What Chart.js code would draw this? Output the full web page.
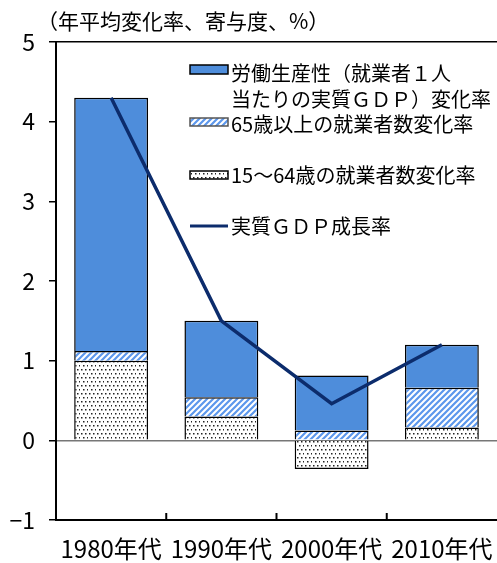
<!DOCTYPE html>
<html>
<head>
<meta charset="utf-8">
<script src="https://cdn.jsdelivr.net/npm/chart.js@4"></script>
<style>
  html, body { margin: 0; padding: 0; background: #fff; }
  #wrap { width: 497px; height: 563px; position: relative; }
</style>
</head>
<body>
<div id="wrap"><canvas id="growth"></canvas></div>
<script>
// Decades and contributions (annual average, % points)
const decades = ['1980年代', '1990年代', '2000年代', '2010年代'];
const productivity = [3.18, 0.96, 0.69, 0.54];
const elderlyWorkers = [0.12, 0.24, 0.125, 0.50];
const workingAgeWorkers = [1.00, 0.30, -0.36, 0.16];
const gdpGrowth = [4.30, 1.50, 0.46, 1.20];
const yMin = -1;
const yMax = 5;

const FONT = "'Liberation Sans Narrow', 'Noto Sans CJK JP', sans-serif";
const BLUE = '#4e8ddb';
const NAVY = '#0c2c6c';

// diagonal blue stripes
function stripePattern() {
    const s = 6;
    const c = document.createElement('canvas');
    c.width = s; c.height = s;
    const g = c.getContext('2d');
    g.fillStyle = '#fff';
    g.fillRect(0, 0, s, s);
    g.strokeStyle = '#5c97ec';
    g.lineWidth = 2.2;
    g.beginPath();
    g.moveTo(0, s); g.lineTo(s, 0);
    g.moveTo(-1, 1); g.lineTo(1, -1);
    g.moveTo(s - 1, s + 1); g.lineTo(s + 1, s - 1);
    g.stroke();
    return g.createPattern(c, 'repeat');
}

// staggered black dots
function dotPattern() {
    const c = document.createElement('canvas');
    c.width = 8; c.height = 8;
    const g = c.getContext('2d');
    g.fillStyle = '#fff';
    g.fillRect(0, 0, 8, 8);
    g.fillStyle = '#222';
    [[1, 1], [5, 1], [3, 5], [7, 5]].forEach(([x, y]) => g.fillRect(x, y, 1.5, 1.5));
    return g.createPattern(c, 'repeat');
}

const stripes = stripePattern();
const dots = dotPattern();

// title, legend and the small ticks between decades
const overlay = {
    id: 'overlay',
    afterDraw(chart) {
        const c = chart.ctx;
        const x = chart.scales.x;
        const area = chart.chartArea;
        c.save();

        c.strokeStyle = '#000';
        c.lineWidth = 2;
        for (let i = 0; i < decades.length - 1; i++) {
            const bx = (x.getPixelForValue(i) + x.getPixelForValue(i + 1)) / 2;
            c.beginPath();
            c.moveTo(bx, area.bottom);
            c.lineTo(bx, area.bottom - 7);
            c.stroke();
        }

        c.fillStyle = '#000';
        c.textBaseline = 'middle';
        c.font = '21px ' + FONT;
        c.fillText('（年平均変化率、寄与度、%）', 37, 21);

        const sx = 190, sw = 38, tx = 231;
        c.font = '20px ' + FONT;
        c.lineWidth = 1.5;
        c.fillStyle = BLUE;
        c.fillRect(sx, 65, sw, 9);
        c.strokeRect(sx, 65, sw, 9);
        c.fillStyle = stripes;
        c.fillRect(sx, 118, sw, 8);
        c.strokeStyle = '#555';
        c.strokeRect(sx, 118, sw, 8);
        c.fillStyle = dots;
        c.fillRect(sx, 171, sw, 8);
        c.strokeStyle = '#000';
        c.strokeRect(sx, 171, sw, 8);
        c.strokeStyle = NAVY;
        c.lineWidth = 3;
        c.beginPath();
        c.moveTo(sx, 226);
        c.lineTo(sx + sw, 226);
        c.stroke();

        c.fillStyle = '#000';
        c.fillText('労働生産性（就業者１人', tx, 73);
        c.fillText('当たりの実質ＧＤＰ）変化率', tx, 99);
        c.fillText('65歳以上の就業者数変化率', tx, 124);
        c.fillText('15～64歳の就業者数変化率', tx, 175);
        c.fillText('実質ＧＤＰ成長率', tx, 226);
        c.restore();
    }
};

const ctx = document.getElementById('growth').getContext('2d');

const chart = new Chart(ctx, {
    data: {
        labels: decades,
        datasets: [
            {
                type: 'line',
                label: '実質ＧＤＰ成長率',
                data: gdpGrowth,
                borderColor: NAVY,
                borderWidth: 3.5,
                pointRadius: 0,
                tension: 0,
                order: 0
            },
            {
                type: 'bar',
                label: '15～64歳の就業者数変化率',
                data: workingAgeWorkers,
                backgroundColor: dots,
                borderColor: '#000',
                borderWidth: 1.5,
                order: 1
            },
            {
                type: 'bar',
                label: '65歳以上の就業者数変化率',
                data: elderlyWorkers,
                backgroundColor: stripes,
                borderColor: '#000',
                borderWidth: 1.5,
                order: 1
            },
            {
                type: 'bar',
                label: '労働生産性（就業者１人当たりの実質ＧＤＰ）変化率',
                data: productivity,
                backgroundColor: BLUE,
                borderColor: '#000',
                borderWidth: 1.5,
                order: 1
            }
        ]
    },
    options: {
        responsive: true,
        maintainAspectRatio: false,
        animation: false,
        layout: { padding: { top: 42, right: 0, left: 0, bottom: 0 } },
        datasets: {
            bar: { categoryPercentage: 1, barPercentage: 0.67 }
        },
        plugins: {
            legend: { display: false },
            tooltip: { enabled: false }
        },
        scales: {
            x: {
                stacked: true,
                afterFit(scale) {
                    scale.height = 43;
                    scale.paddingLeft = 0;
                    scale.paddingRight = 0;
                },
                grid: { display: false, drawTicks: false },
                border: { color: '#000', width: 2 },
                ticks: {
                    color: '#000',
                    padding: 14,
                    maxRotation: 0,
                    autoSkip: false,
                    font: { family: FONT, size: 24 }
                }
            },
            y: {
                stacked: true,
                min: yMin,
                max: yMax,
                afterFit(scale) { scale.width = 56; },
                border: { color: '#000', width: 2 },
                grid: {
                    drawOnChartArea: true,
                    tickLength: 7,
                    tickColor: '#000',
                    lineWidth: 1.5,
                    color: (c) => c.tick.value === 0 ? '#777' : (c.tick.value === yMax ? '#000' : 'transparent')
                },
                ticks: {
                    stepSize: 1,
                    color: '#000',
                    padding: 14,
                    font: { family: FONT, size: 23 },
                    callback: (v) => String(v).replace('-', '−')
                }
            }
        }
    },
    plugins: [overlay]
});
</script>
</body>
</html>
